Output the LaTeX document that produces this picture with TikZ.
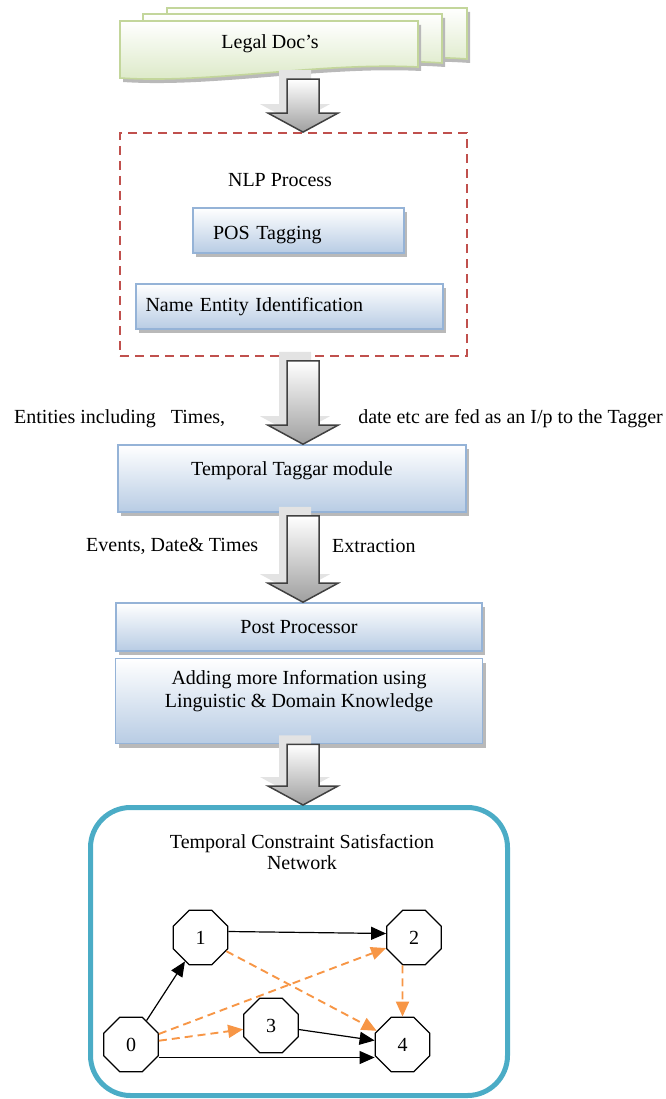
\documentclass[tikz,border=0pt]{standalone}
\usepackage{fontspec}
\setmainfont{Liberation Serif}
\usetikzlibrary{arrows.meta,positioning,calc,shapes.geometric,shadows}
\definecolor{docgreen}{RGB}{195,214,155}
\definecolor{docfill}{RGB}{218,232,196}
\definecolor{boxblue}{RGB}{149,179,215}
\definecolor{boxfill}{RGB}{184,204,228}
\definecolor{nlpred}{RGB}{192,80,77}
\definecolor{netteal}{RGB}{75,172,198}
\definecolor{edgeorange}{RGB}{247,150,70}
% block arrow from #1 (top of shaft) to #2 (tip)
\newcommand{\blkarrow}[2]{%
  \path (#1) coordinate (ba) (#2) coordinate (bb);
  \draw[blk] ($(ba)+(-16,0)$) -- ($(ba)+(16,0)$) -- ($(bb)+(16,-19)$)
    -- ($(bb)+(35,-19)$) -- (bb) -- ($(bb)+(-35,-19)$) -- ($(bb)+(-16,-19)$) -- cycle;}

\begin{document}
\begin{tikzpicture}[
  x=1pt, y=-1pt,
  every node/.style={font=\fontsize{20}{23}\selectfont},
  hatch/.style={general shadow={shadow xshift=3pt, shadow yshift=-4pt, fill=gray!55}},
  sheet/.style={draw=docgreen, line width=1.6pt, top color=white, bottom color=docfill, hatch},
  procbox/.style={rectangle, draw=boxblue, line width=1.6pt, top color=white,
                  bottom color=boxfill, hatch, inner sep=0pt},
  blk/.style={draw=gray!50!black, line width=1.5pt, top color=white, bottom color=gray!75,
              general shadow={shadow xshift=-8pt, shadow yshift=9pt, fill=gray!22}},
  lbl/.style={inner sep=0pt},
  oct/.style={regular polygon, regular polygon sides=8, minimum size=59pt, inner sep=0pt,
              draw, line width=1.3pt},
  edg/.style={-{Triangle[length=15pt,width=13pt]}, line width=1.2pt},
  dep/.style={-{Triangle[length=15pt,width=13pt]}, draw=edgeorange, line width=1.9pt,
              dash pattern=on 8pt off 5pt}
]
\useasboundingbox (0,0) rectangle (665,1099);
\coordinate (col) at (303,0);

% stacked documents
\path[sheet] (167,8) -- (467,8) -- (467,59) .. controls (370,52) and (260,72) .. (167,64) -- cycle;
\path[sheet] (143,14) -- (442,14) -- (442,63) .. controls (345,56) and (235,76) .. (143,70) -- cycle;
\path[sheet] (120,21) -- (418,21) -- (418,67) .. controls (320,62) and (210,84) .. (120,78) -- cycle;
\node[minimum width=298pt, minimum height=58pt] (docs) at (269,50) {};
\node[lbl] (docstxt) at (270,44) {Legal Doc’s};

% NLP stage
\node[draw=nlpred, line width=1.8pt, dash pattern=on 9pt off 6pt,
      minimum width=347pt, minimum height=223pt] (nlp) at (293.5,244.5) {};
\node[lbl] (nlptitle) at (280,180) {NLP Process};
\node[procbox, minimum width=211pt, minimum height=45pt, text width=171pt, align=left]
  (pos) at (298.5,230.5) {\rule{0pt}{22pt}POS Tagging};
\node[procbox, minimum width=307pt, minimum height=45pt, text width=288pt, align=left]
  (nei) at (289.5,306.5) {Name Entity Identification};

% tagger
\node[procbox, minimum width=348pt, minimum height=67pt] (tagger) at (292,478.5)
  {\raisebox{20pt}{Temporal Taggar module}};
\node[lbl, anchor=west] (entl) at (14,419) {Entities including \ \ Times,};
\node[lbl, anchor=east] (entr) at (663,419) {date etc are fed as an I/p to the Tagger};

% post processing
\node[procbox, minimum width=366pt, minimum height=48pt] (post) at (299,627) {Post Processor};
\node[procbox, minimum width=367pt, minimum height=85pt, align=center, text depth=24pt,
      below=6pt of post] (adding)
  {Adding more Information using\\Linguistic \& Domain Knowledge};
\node[lbl, anchor=west] (evl) at (86,546) {Events, Date\& Times};
\node[lbl, anchor=west] (evr) at (332,546) {Extraction};

% network
\node[draw=netteal, line width=5pt, rounded corners=40pt,
      minimum width=417pt, minimum height=288pt] (net) at (299,951.5) {};
\node[lbl, align=center, font=\fontsize{20}{21}\selectfont] (nettitle) at (302,852)
  {Temporal Constraint Satisfaction\\Network};
\node[oct] (n0) at (131,1044.5) {0};
\node[oct] (n1) at (200.5,937.5) {1};
\node[oct] (n2) at (414,937.5) {2};
\node[oct] (n3) at (271,1025.5) {3};
\node[oct] (n4) at (402.5,1044.5) {4};

\draw[edg] (n0) -- (n1);
\draw[edg] ([yshift=6pt]n1.east) -- ([yshift=4pt]n2.west);
\draw[edg] (n3) -- (n4);
\draw[edg] ([yshift=-13pt]n0.east) -- ([yshift=-13pt]n4.west);
\draw[dep] (n1) -- (n4);
\draw[dep] (n0) -- (n2);
\draw[dep] (n0) -- (n3);
\draw[dep] (n2.south -| n4) -- (n4);

% block arrows
\blkarrow{col |- docs.south}{col |- nlp.north}
\blkarrow{$(col |- nlp.south)+(0,4)$}{col |- tagger.north}
\blkarrow{$(col |- tagger.south)+(0,3)$}{col |- post.north}
\blkarrow{col |- adding.south}{col |- net.north}
\end{tikzpicture}
\end{document}
